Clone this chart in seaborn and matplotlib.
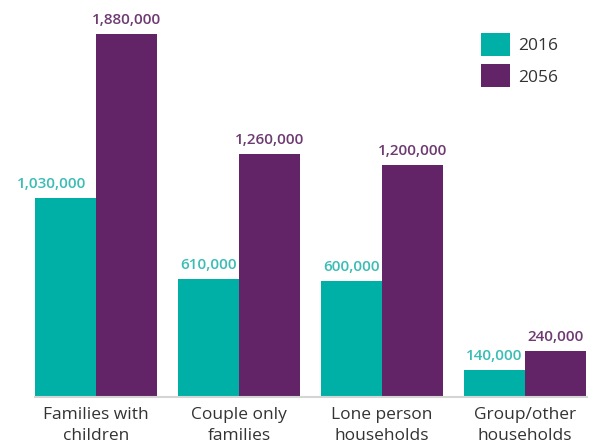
import matplotlib
matplotlib.use("Agg")
import matplotlib.pyplot as plt
import seaborn as sns
import pandas as pd

categories = ["Families with\nchildren", "Couple only\nfamilies", "Lone person\nhouseholds", "Group/other\nhouseholds"]
years = ["2016", "2056"]
values_2016 = [1030000, 610000, 600000, 140000]
values_2056 = [1880000, 1260000, 1200000, 240000]

teal = "#00B0A6"
purple = "#622466"
label_teal = "#3BBDB4"
label_purple = "#6E3A72"

df = pd.DataFrame({
    "category": categories * 2,
    "year": [years[0]] * 4 + [years[1]] * 4,
    "value": values_2016 + values_2056,
})

sns.set_theme(style="white")
plt.rcParams["font.family"] = ["Open Sans", "DejaVu Sans"]

fig = plt.figure(figsize=(5.95, 4.45), dpi=100)
ax = fig.add_axes([34.5 / 595, 48 / 445, 552 / 595, 397 / 445])

sns.barplot(data=df, x="category", y="value", hue="year", hue_order=years,
            palette=[teal, purple], width=0.853, saturation=1, ax=ax, errorbar=None,
            linewidth=0, edgecolor="none")

ax.set_xlim(-0.43, 3.43)
ax.set_ylim(0, 2.057e6)

for i, (cont, col) in enumerate(zip(ax.containers, [label_teal, label_purple])):
    anns = ax.bar_label(cont, labels=[f"{v:,.0f}" for v in cont.datavalues], padding=5,
                        color=col, fontsize=11, fontweight="semibold")
    if i == 0:
        anns[0].xyann = (-10, anns[0].xyann[1])

for s in ["top", "right", "left"]:
    ax.spines[s].set_visible(False)
ax.spines["bottom"].set_color("#d5d5d5")
ax.spines["bottom"].set_linewidth(1.5)
ax.set_yticks([])
ax.set_xlabel("")
ax.set_ylabel("")
ax.tick_params(axis="x", length=0, pad=7, labelsize=12.5, labelcolor="#333333")
for t in ax.get_xticklabels():
    t.set_linespacing(1.45)

leg = ax.legend(loc="upper left", bbox_to_anchor=(440 / 552, 1 - 26 / 397),
                frameon=False, fontsize=12.5, handlelength=1.65, handleheight=1.65,
                handletextpad=0.45, labelspacing=0.5, borderaxespad=0)
for t in leg.get_texts():
    t.set_color("#333333")

fig.savefig("out.png", dpi=100)
